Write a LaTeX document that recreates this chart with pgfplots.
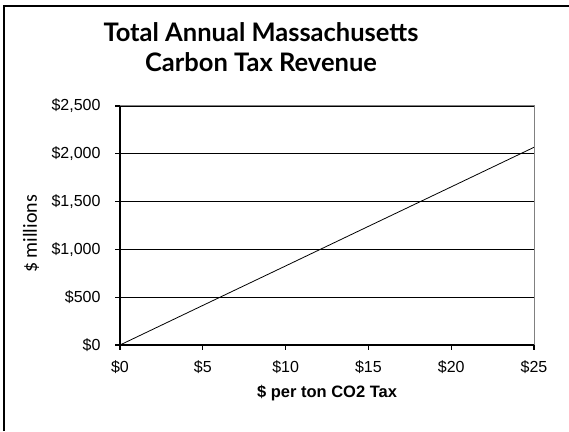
\documentclass[border=0pt]{standalone}
\usepackage{pgfplots}
\pgfplotsset{compat=1.18}
\usepackage{fontspec}
\setmainfont{Liberation Sans}
\newfontfamily\titlefont{Lato}
\newfontfamily\labelfont{Carlito}

\begin{document}
\begin{tikzpicture}[x=1pt,y=1pt]
    \useasboundingbox (0,0) rectangle (569,431);
    % frame (only left and top edges are visible in the original)
    \draw[line width=2.5pt] (4,0) -- (4,425) -- (569,425);
    \node[font=\titlefont\bfseries\fontsize{25.5}{30}\selectfont, align=center]
        at (261,384) {Total Annual Massachusetts\\Carbon Tax Revenue};
    \node[font=\labelfont\fontsize{20}{24}\selectfont, rotate=90]
        at (31,197) {\$ millions};
    \begin{axis}[
        at={(120pt,86pt)}, anchor=south west,
        scale only axis,
        width=414pt, height=239pt,
        xmin=0, xmax=25, ymin=0, ymax=2500,
        xtick={0,5,...,25}, ytick={0,500,...,2500},
        axis lines*=left,
        axis line style={line width=1.2pt},
        major tick length=0pt,
        ymajorgrids, grid style={black, line width=0.9pt},
        /pgf/number format/assume math mode=true,
        ticklabel style={font=\fontsize{16}{19}\selectfont},
        xticklabel style={yshift=-12pt},
        yticklabel style={xshift=-16pt},
        xticklabel={\$\pgfmathprintnumber{\tick}},
        yticklabel={\$\pgfmathprintnumber[1000 sep={,}]{\tick}},
        scaled y ticks=false,
        xlabel={\fontsize{16.5}{19}\selectfont\bfseries \$ per ton CO2 Tax},
        xlabel style={at={(axis description cs:0.5,-0.2)}, anchor=center},
        clip=false,
    ]
        \addplot[black, line width=0.8pt, mark=none]
            coordinates {
                (0,0) (5,414) (10,827) (15,1241) (20,1654) (25,2068)
            };
        \draw[gray, line width=1pt] (rel axis cs:0,1) -| (rel axis cs:1,0);
        % outward tick marks
        \pgfplotsinvokeforeach{0,5,10,15,20,25}{
            \draw[black, line width=1.1pt] (axis cs:#1,0) -- ++(0,-5pt);}
        \pgfplotsinvokeforeach{0,500,1000,1500,2000,2500}{
            \draw[black, line width=1.1pt] (axis cs:0,#1) -- ++(-5pt,0);}
    \end{axis}
\end{tikzpicture}
\end{document}
